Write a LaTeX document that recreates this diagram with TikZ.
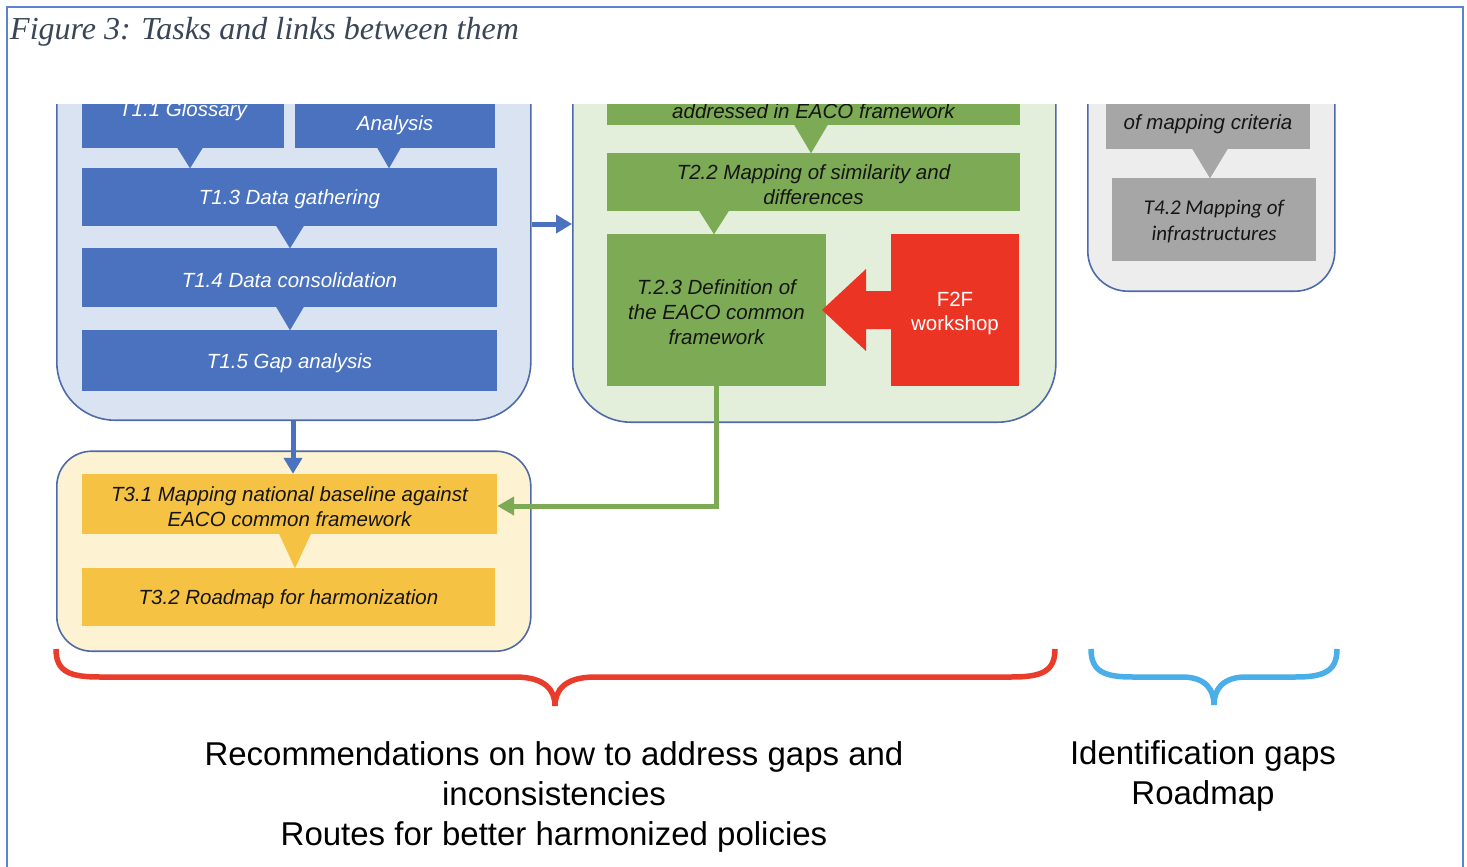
\documentclass[tikz,border=0pt]{standalone}
\usepackage{fontspec}
\setmainfont{Liberation Serif}
\setsansfont{Liberation Sans}
\newfontfamily\calib{Carlito}
\usetikzlibrary{arrows.meta,calc}
\definecolor{cblue}{HTML}{4A72BF}
\definecolor{cbluel}{HTML}{DAE3F1}
\definecolor{contb}{HTML}{4F6AA8}
\definecolor{cgreen}{HTML}{7DAA55}
\definecolor{cgreenl}{HTML}{E3EFDB}
\definecolor{cred}{HTML}{EC3424}
\definecolor{cyellow}{HTML}{F5C244}
\definecolor{cyell}{HTML}{FDF2D1}
\definecolor{cgrey}{HTML}{A6A6A6}
\definecolor{cgreyl}{HTML}{EDEDED}
\definecolor{bracered}{HTML}{E93C2B}
\definecolor{braceblue}{HTML}{4AAEE9}
\definecolor{framec}{HTML}{5B83D0}
\definecolor{capc}{HTML}{3A4556}
\definecolor{darktext}{HTML}{151515}
\newcommand\tripointer[5]{%
  \coordinate (tpa) at (#2.south -| #4,0);
  \coordinate (tpb) at (#3.north -| #4,0);
  \fill[#1] ([xshift=-#5pt,yshift=0.5pt]tpa) -- ([xshift=#5pt,yshift=0.5pt]tpa) -- ([yshift=-0.5pt]tpb) -- cycle;}
\tikzset{
  x=1pt, y=1pt,
  cont/.style={draw=contb, line width=1.6pt, inner sep=0pt, anchor=south west},
  tbox/.style={inner sep=0pt, align=center, font=\sffamily\itshape\fontsize{20.5}{25}\selectfont},
  oneline/.style={text height=20pt},
  bluebox/.style={tbox, fill=cblue, text=white},
  greenbox/.style={tbox, fill=cgreen, text=darktext},
  yellowbox/.style={tbox, fill=cyellow, text=darktext},
  greybox/.style={tbox, fill=cgrey, text=darktext},
  greybox4/.style={inner sep=0pt, align=center, fill=cgrey, text=darktext, font=\calib\itshape\fontsize{21}{26}\selectfont},
  redbox/.style={inner sep=0pt, align=center, fill=cred, text=white, font=\sffamily\fontsize{20.5}{24}\selectfont},
  barrow/.style={draw=cblue, line width=5pt, -{Triangle[length=16pt,width=18pt]}},
  garrow/.style={draw=cgreen, line width=5pt, -{Triangle[length=17pt,width=18pt]}},
  bracestyle/.style={line width=5.5pt, line cap=butt},
  bottomtext/.style={align=center, inner sep=0pt, font=\sffamily\fontsize{33}{40}\selectfont, text=black},
}
\begin{document}
\begin{tikzpicture}
\useasboundingbox (0,0) rectangle (1467,-867);
\fill[white] (0,0) rectangle (1467,-867);

\begin{scope}
\clip (0,-104) rectangle (1467,-867);

% ---- blue group
\node[cont, fill=cbluel, rounded corners=58pt, minimum width=474pt, minimum height=400pt] (bc) at (56,-421) {};
\node[bluebox, minimum width=202pt, text height=80pt, text depth=31.5pt, anchor=south] (b11) at (183,-148) {T1.1 Glossary};
\node[bluebox, minimum width=200pt, text height=80pt, text depth=17.5pt, anchor=south] (b12) at (395,-148) {Analysis};
\node[bluebox, oneline, minimum width=415pt, minimum height=58pt] (b13) at (289.5,-197) {T1.3 Data gathering};
\node[bluebox, oneline, minimum width=415pt, minimum height=59pt] (b14) at (289.5,-277.5) {T1.4 Data consolidation};
\node[bluebox, oneline, minimum width=415pt, minimum height=61pt] (b15) at (289.5,-360.5) {T1.5 Gap analysis};
\tripointer{cblue}{b11}{b13}{190}{13}
\tripointer{cblue}{b12}{b13}{389}{12}
\tripointer{cblue}{b13}{b14}{290}{14}
\tripointer{cblue}{b14}{b15}{290}{14}

% ---- green group
\node[cont, fill=cgreenl, rounded corners=58pt, minimum width=483pt, minimum height=400pt] (gc) at (572,-423) {};
\node[greenbox, minimum width=413pt, text height=80pt, text depth=6.5pt, anchor=south] (g21) at (813.5,-125) {addressed in EACO framework};
\node[greenbox, text height=45pt, minimum width=413pt, minimum height=58pt] (g22) at (813.5,-182) {T2.2 Mapping of similarity and\\differences};
\node[greenbox, text height=69pt, minimum width=219pt, minimum height=152pt] (g23) at (716.5,-310) {T.2.3 Definition of\\the EACO common\\framework};
\node[redbox, text height=44.7pt, minimum width=128pt, minimum height=152pt] (f2f) at (955,-310) {F2F\\workshop};
\tripointer{cgreen}{g21}{g22}{811}{17}
\tripointer{cgreen}{g22}{g23}{714}{15}
\fill[cred] ([xshift=1pt,yshift=19pt]f2f.west) -- (866,-291) -- (866,-269) -- (822,-310)
  -- (866,-351) -- (866,-329) -- ([xshift=1pt,yshift=-19pt]f2f.west) -- cycle;

% ---- yellow group
\node[cont, fill=cyell, rounded corners=35pt, minimum width=474pt, minimum height=200pt] (yc) at (56,-652) {};
\node[yellowbox, text height=45pt, minimum width=415pt, minimum height=60pt] (t31) at (289.5,-504) {T3.1 Mapping national baseline against\\EACO common framework};
\node[yellowbox, oneline, minimum width=413pt, minimum height=58pt] (t32) at (288.5,-597) {T3.2 Roadmap for harmonization};
\tripointer{cyellow}{t31}{t32}{295}{16}

% ---- grey group
\node[cont, fill=cgreyl, rounded corners=40pt, minimum width=247pt, minimum height=280pt] (grc) at (1087,-292) {};
\node[greybox, minimum width=204pt, text height=80pt, text depth=19.5pt, anchor=south] (g41) at (1208,-149) {of mapping criteria};
\node[greybox4, text height=45pt, minimum width=204pt, minimum height=83pt] (g42) at (1214,-219.5) {T4.2 Mapping of\\infrastructures};
\tripointer{cgrey}{g41}{g42}{1210}{18}

% ---- connectors
\coordinate (ya) at (0,-224);
\draw[barrow] (bc.east |- ya) -- (gc.west |- ya);
\coordinate (xa) at (293,0);
\draw[barrow] (bc.south -| xa) -- (t31.north -| xa);
\coordinate (yg) at (0,-506);
\draw[garrow] (g23.south) |- (t31.east |- yg);

% ---- braces
\draw[bracestyle, draw=bracered] (56,-649) .. controls (56,-672) and (70,-677) .. (100,-677)
  -- (515,-677) .. controls (545,-677) and (555,-690) .. (555,-706)
  .. controls (555,-690) and (565,-677) .. (595,-677)
  -- (1011,-677) .. controls (1041,-677) and (1055,-672) .. (1055,-649);
\draw[bracestyle, draw=braceblue] (1091,-649) .. controls (1091,-672) and (1105,-677) .. (1133,-677)
  -- (1182,-677) .. controls (1206,-677) and (1214,-690) .. (1214,-705)
  .. controls (1214,-690) and (1222,-677) .. (1246,-677)
  -- (1295,-677) .. controls (1323,-677) and (1337,-672) .. (1337,-649);

% ---- bottom texts
\node[bottomtext] (rec) at (554,-796.5) {Recommendations on how to address gaps and\\inconsistencies\\Routes for better harmonized policies};
\node[bottomtext] (idg) at (1203,-776) {Identification gaps\\Roadmap};
\end{scope}

% ---- frame and caption
\draw[framec, line width=1.5pt] (7,-870) -- (7,-7) -- (1463,-7) -- (1463,-870);
\node[anchor=base west, inner sep=0pt, font=\itshape\fontsize{32}{38}\selectfont, text=capc] (cap) at (10,-40) {Figure 3: Tasks and links between them};
\end{tikzpicture}
\end{document}
